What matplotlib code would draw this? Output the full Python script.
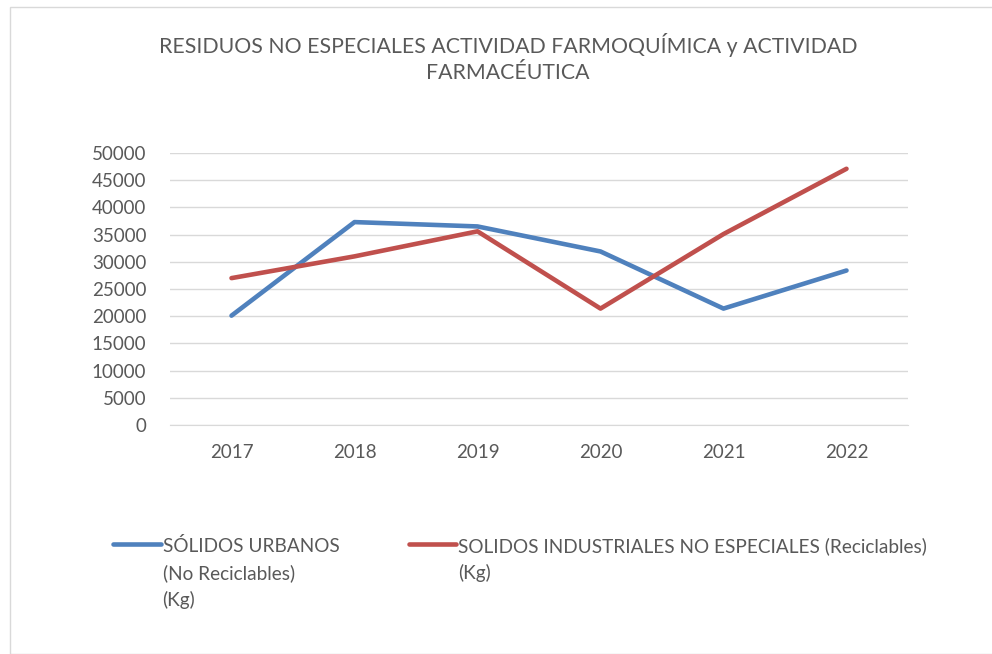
import matplotlib.pyplot as plt
from matplotlib.patches import Rectangle

plt.rcParams['font.family'] = ['Lato', 'DejaVu Sans']

years = ["2017", "2018", "2019", "2020", "2021", "2022"]
urbanos = [20100, 37300, 36500, 31900, 21400, 28400]
industriales = [27000, 31000, 35600, 21400, 35100, 47100]
y_ticks = [0, 5000, 10000, 15000, 20000, 25000, 30000, 35000, 40000, 45000, 50000]
lbl_urb = "SÓLIDOS URBANOS\n(No Reciclables)\n(Kg)"
lbl_ind = "SOLIDOS INDUSTRIALES NO ESPECIALES (Reciclables)\n(Kg)"
title = "RESIDUOS NO ESPECIALES ACTIVIDAD FARMOQUÍMICA y ACTIVIDAD\nFARMACÉUTICA"

W, H = 992, 654
fig = plt.figure(figsize=(W / 100, H / 100), dpi=100)
# chart border
fig.add_artist(Rectangle((10 / W, 0), 1, 1 - 7 / H, transform=fig.transFigure,
                         fill=False, edgecolor="#D9D9D9", lw=1))

ax = fig.add_axes([170 / W, 1 - 425 / H, 738 / W, 272 / H])
x = range(len(years))
ax.plot(x, urbanos, color="#4F81BD", lw=3.3, solid_capstyle="round", label=lbl_urb)
ax.plot(x, industriales, color="#C0504D", lw=3.3, solid_capstyle="round", label=lbl_ind)

ax.set_xlim(-0.5, len(years) - 0.5)
ax.set_ylim(0, 50000)
ax.set_xticks(list(x))
ax.set_xticklabels(years)
ax.set_yticks(y_ticks)
ax.set_yticklabels([str(v) for v in y_ticks])
ax.tick_params(length=0, labelsize=13.5, labelcolor="#595959")
ax.tick_params(axis="x", pad=14)
ax.tick_params(axis="y", pad=17)
ax.grid(axis="y", color="#D9D9D9", lw=1)
ax.set_axisbelow(True)
for s in ["top", "right", "left"]:
    ax.spines[s].set_visible(False)
ax.spines["bottom"].set_color("#D9D9D9")

fig.text(508 / W, 1 - 58 / H, title, ha="center", va="center",
         fontsize=15.3, color="#595959", linespacing=1.4)

leg = ax.legend(loc="upper left", bbox_to_anchor=(96 / W, 1 - 520 / H),
                bbox_transform=fig.transFigure, ncol=2, frameon=False,
                fontsize=13.7, labelcolor="#595959", handlelength=2.5,
                handletextpad=0.1, columnspacing=3.65, labelspacing=0.2)
for t in leg.get_texts():
    t.set_linespacing(1.6)
try:
    leg._legend_handle_box.align = "top"
    for col in leg._legend_handle_box.get_children():
        for row in col.get_children():
            row.align = "top"
except Exception:
    pass

fig.savefig("out.png", dpi=100)
